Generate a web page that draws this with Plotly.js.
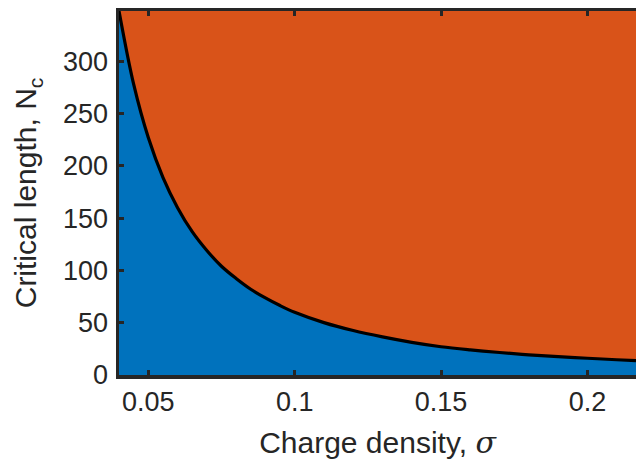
<!DOCTYPE html>
<html>
<head>
<meta charset="utf-8">
<script src="https://cdn.plot.ly/plotly-3.0.1.min.js"></script>
<style>html,body{margin:0;padding:0;background:#fff;}#chart{width:636px;height:460px;}</style>
</head>
<body>
<div id="chart"></div>
<script>
// Charge density sigma (x) and critical length N_c (y)
var sigma = [0.040, 0.045, 0.050, 0.055, 0.060, 0.065, 0.070, 0.075, 0.080, 0.085,
             0.090, 0.095, 0.100, 0.110, 0.120, 0.130, 0.140, 0.150, 0.160, 0.170,
             0.180, 0.190, 0.200, 0.210, 0.2166];
var Nc = [348, 278, 227, 189, 160, 137, 119, 104, 92.3, 82,
          73.7, 66.4, 60, 50.1, 42.5, 36.4, 31.2, 27.0, 24.0, 21.5,
          19.3, 17.5, 16.0, 14.6, 13.7];
var xTicks = [0.05, 0.1, 0.15, 0.2];
var xTickText = ['0.05', '0.1', '0.15', '0.2'];
var yTicks = [0, 50, 100, 150, 200, 250, 300];

var axisColor = '#262626';
var fontFam = 'Liberation Sans, Arial, Helvetica, sans-serif';

var traces = [{
  x: sigma, y: Nc, type: 'scatter', mode: 'lines',
  line: {color: '#000000', width: 3.2, shape: 'spline'},
  fill: 'tozeroy', fillcolor: '#0072BD',
  hoverinfo: 'skip', showlegend: false
}];

var layout = {
  width: 636, height: 460,
  margin: {l: 119, r: 0, t: 11, b: 85},
  paper_bgcolor: '#ffffff',
  plot_bgcolor: '#D95319',
  showlegend: false,
  font: {family: fontFam, color: axisColor, size: 27},
  xaxis: {
    range: [0.04, 0.2166],
    tickvals: xTicks, ticktext: xTickText,
    ticks: 'inside', ticklen: 5, tickwidth: 3, tickcolor: axisColor,
    showline: true, linecolor: axisColor, linewidth: 3.5, mirror: 'ticks',
    showgrid: false, zeroline: false,
    tickfont: {family: fontFam, size: 27, color: axisColor},
    title: {text: 'Charge density, <span style="font-family:DejaVu Serif;font-style:italic">σ</span>',
            font: {family: fontFam, size: 30, color: axisColor}, standoff: 18}
  },
  yaxis: {
    range: [0, 348],
    tickvals: yTicks,
    ticks: 'inside', ticklen: 5, tickwidth: 3, tickcolor: axisColor,
    showline: true, linecolor: axisColor, linewidth: 3.5, mirror: false,
    showgrid: false, zeroline: false,
    ticklabelstandoff: 2,
    tickfont: {family: fontFam, size: 27, color: axisColor},
    title: {text: 'Critical length, N<sub>c</sub>',
            font: {family: fontFam, size: 30, color: axisColor}, standoff: 18}
  }
};

Plotly.newPlot('chart', traces, layout, {displayModeBar: false, staticPlot: true});
</script>
</body>
</html>
